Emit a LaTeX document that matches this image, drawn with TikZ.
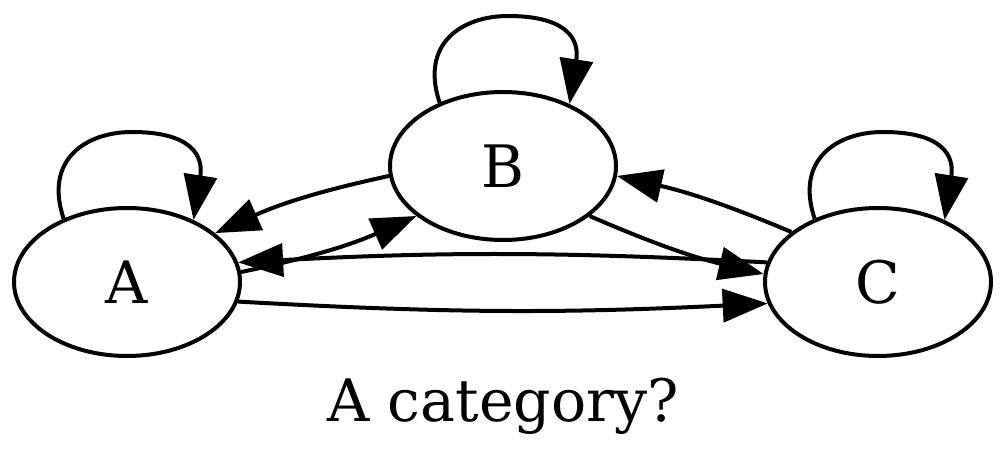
\documentclass[tikz,border=0pt]{standalone}
\usepackage{fontspec}
\setmainfont{DejaVu Serif}
\usetikzlibrary{arrows.meta,shapes.geometric,calc}
\tikzset{
	vertex/.style={draw, ellipse, line width=4pt, minimum width=226pt, minimum height=148pt, inner sep=0pt, font=\fontsize{58.5}{70}\selectfont},
	arr/.style={line width=4pt, -{Triangle[length=45pt,width=33pt]}}
}

\begin{document}
\begin{tikzpicture}[x=1pt, y=1pt]
			%%%%% START %%%%%
			\useasboundingbox (0,0) rectangle (1008,471);
			
			\node[vertex] (A) at (127,189) {A};
			\node[vertex] (B) at (503,305) {B};
			\node[vertex] (C) at (878,189) {C};
			
			% loop tops
			\coordinate (topA) at ($(A.north)+(5,74)$);
			\coordinate (topB) at ($(B.north)+(5,74)$);
			\coordinate (topC) at ($(C.north)+(5,74)$);
			
			\draw[arr] (A.135) .. controls +(-20,60) and +(-45,0) .. (topA) .. controls +(60,0) and +(10,64) .. (A.43);
			\draw[arr] (B.135) .. controls +(-20,60) and +(-45,0) .. (topB) .. controls +(60,0) and +(10,64) .. (B.43);
			\draw[arr] (C.135) .. controls +(-20,60) and +(-45,0) .. (topC) .. controls +(60,0) and +(10,64) .. (C.43);
			
			\draw[arr] (B.185) to[bend right=6] (A.29);
			\draw[arr] (A.5) to[bend right=6] (B.210);
			\draw[arr] (C.170) to[bend right=3] (A.10);
			\draw[arr] (A.350) to[bend right=3] (C.191);
			\draw[arr] (B.330) to[bend right=5] (C.176);
			\draw[arr] (C.150) to[bend right=5] (B.355);
			
			\node[anchor=base, font=\fontsize{58.5}{70}\selectfont] (title) at (503,50) {A category?};
			%%%%% END %%%%%
\end{tikzpicture}
\end{document}
